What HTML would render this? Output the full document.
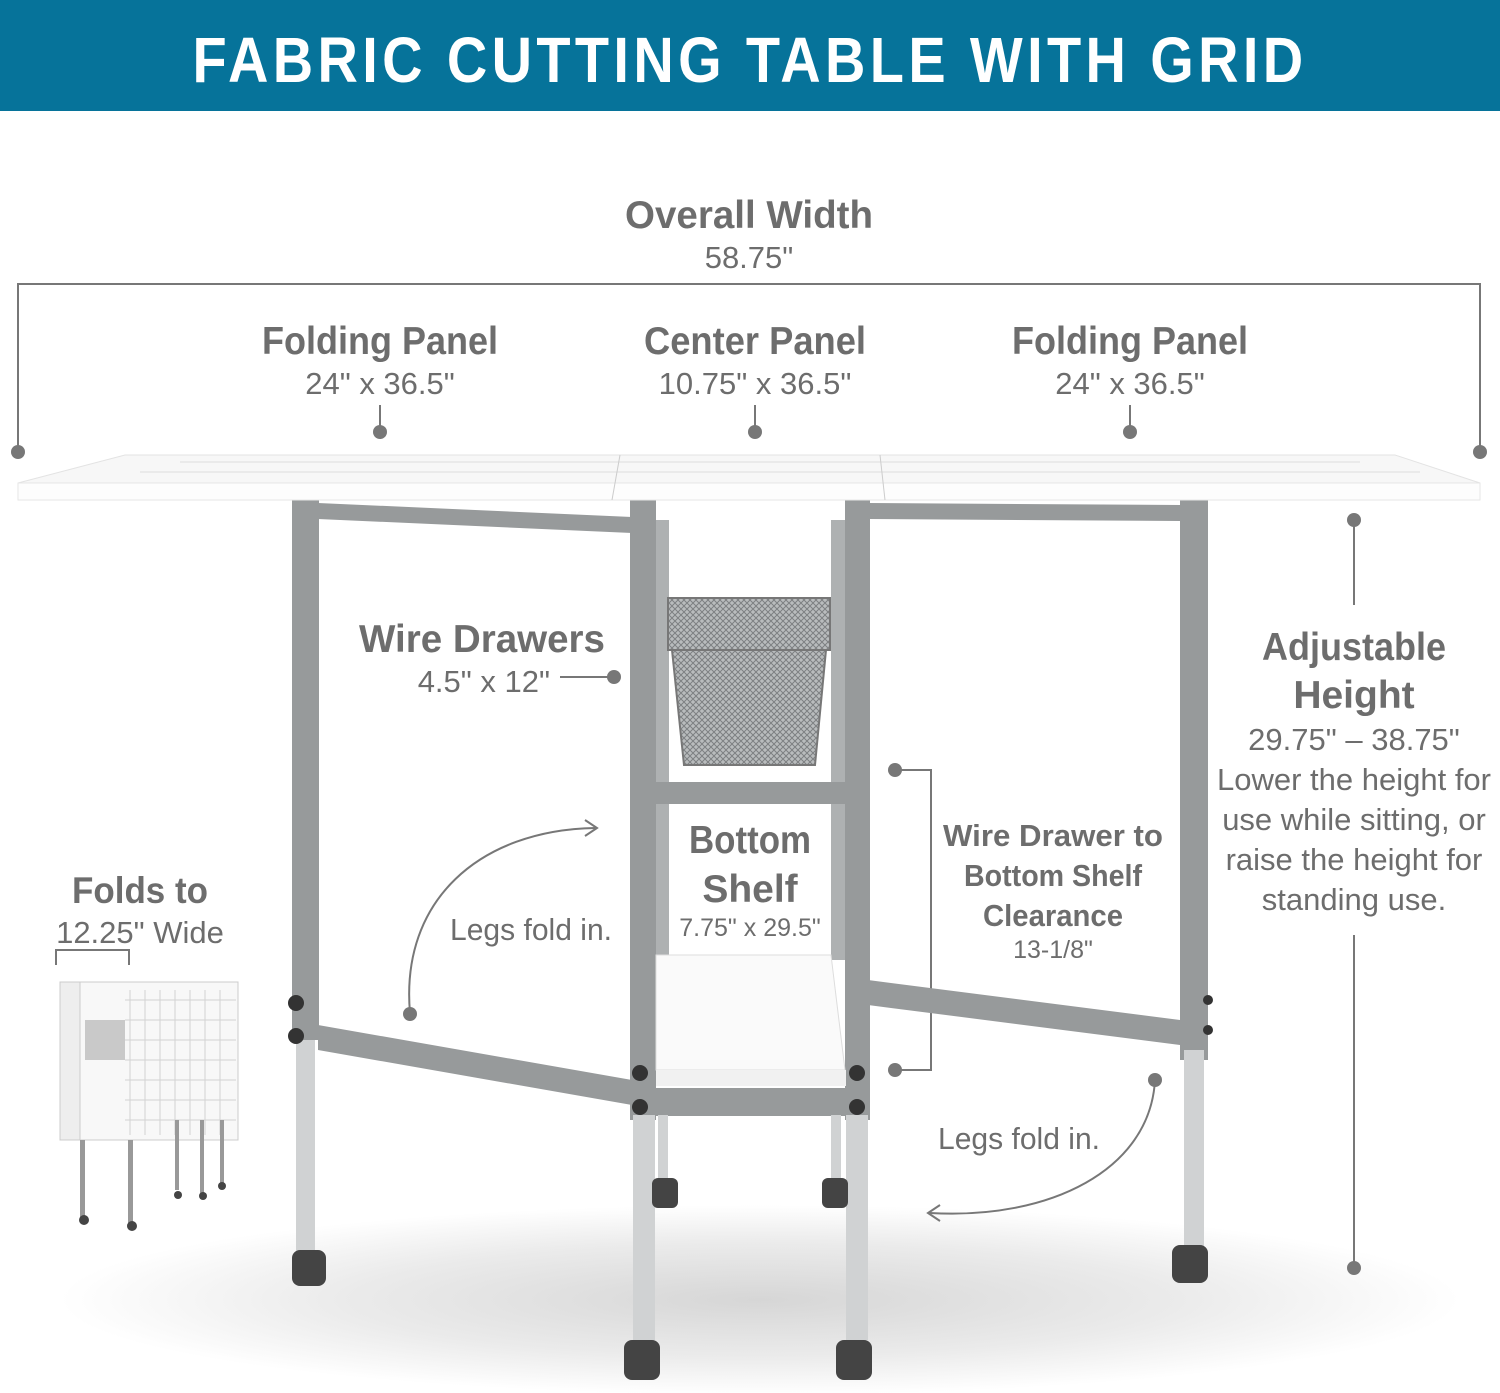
<!DOCTYPE html>
<html><head><meta charset="utf-8"><style>
html,body{margin:0;padding:0;background:#fff}
svg{display:block}
text{font-family:"Liberation Sans",sans-serif}
</style></head><body>
<svg width="1500" height="1393" viewBox="0 0 1500 1393" xmlns="http://www.w3.org/2000/svg">
<defs>
<radialGradient id="sh" cx="50%" cy="50%" r="50%">
<stop offset="0" stop-color="#d6d6d6"/><stop offset="0.6" stop-color="#ebebeb"/><stop offset="1" stop-color="#fff"/>
</radialGradient>
<pattern id="mesh" width="6" height="6" patternUnits="userSpaceOnUse">
<rect width="6" height="6" fill="#b9bcbd"/><path d="M0 0L6 6M6 0L0 6" stroke="#7d8082" stroke-width="1"/>
</pattern>
</defs>
<rect width="1500" height="111" fill="#06739a"/>
<text x="750" y="82" text-anchor="middle" fill="#fff" font-size="64" font-weight="bold" letter-spacing="5" textLength="1115" lengthAdjust="spacingAndGlyphs">FABRIC CUTTING TABLE WITH GRID</text>

<ellipse cx="760" cy="1300" rx="700" ry="95" fill="url(#sh)"/>

<g fill="#6d6d6d" text-anchor="middle">
<text x="749" y="228" font-size="39" font-weight="bold" textLength="248" lengthAdjust="spacingAndGlyphs">Overall Width</text>
<text x="749" y="268" font-size="31">58.75"</text>
<text x="380" y="354" font-size="39" font-weight="bold" textLength="236" lengthAdjust="spacingAndGlyphs">Folding Panel</text>
<text x="380" y="394" font-size="31">24" x 36.5"</text>
<text x="755" y="354" font-size="39" font-weight="bold" textLength="222" lengthAdjust="spacingAndGlyphs">Center Panel</text>
<text x="755" y="394" font-size="31">10.75" x 36.5"</text>
<text x="1130" y="354" font-size="39" font-weight="bold" textLength="236" lengthAdjust="spacingAndGlyphs">Folding Panel</text>
<text x="1130" y="394" font-size="31">24" x 36.5"</text>
<text x="1354" y="660" font-size="39" font-weight="bold" textLength="184" lengthAdjust="spacingAndGlyphs">Adjustable</text>
<text x="1354" y="708" font-size="39" font-weight="bold">Height</text>
<text x="1354" y="750" font-size="31">29.75" – 38.75"</text>
<text x="1354" y="790" font-size="31">Lower the height for</text>
<text x="1354" y="830" font-size="31">use while sitting, or</text>
<text x="1354" y="870" font-size="31">raise the height for</text>
<text x="1354" y="910" font-size="31">standing use.</text>
<text x="1053" y="846" font-size="31" font-weight="bold" textLength="220" lengthAdjust="spacingAndGlyphs">Wire Drawer to</text>
<text x="1053" y="886" font-size="31" font-weight="bold" textLength="178" lengthAdjust="spacingAndGlyphs">Bottom Shelf</text>
<text x="1053" y="926" font-size="31" font-weight="bold" textLength="140" lengthAdjust="spacingAndGlyphs">Clearance</text>
<text x="1053" y="958" font-size="25">13-1/8"</text>
<text x="750" y="853" font-size="39" font-weight="bold" textLength="122" lengthAdjust="spacingAndGlyphs">Bottom</text>
<text x="750" y="902" font-size="39" font-weight="bold">Shelf</text>
<text x="750" y="936" font-size="25">7.75" x 29.5"</text>
<text x="140" y="903" font-size="37" font-weight="bold" textLength="136" lengthAdjust="spacingAndGlyphs">Folds to</text>
<text x="140" y="943" font-size="31">12.25" Wide</text>
</g>
<g fill="#6d6d6d">
<text x="605" y="652" font-size="39" font-weight="bold" text-anchor="end" textLength="246" lengthAdjust="spacingAndGlyphs">Wire Drawers</text>
<text x="550" y="692" font-size="31" text-anchor="end">4.5" x 12"</text>
<text x="450" y="940" font-size="31" textLength="162" lengthAdjust="spacingAndGlyphs">Legs fold in.</text>
<text x="938" y="1149" font-size="31" textLength="162" lengthAdjust="spacingAndGlyphs">Legs fold in.</text>
</g>

<g stroke="#777" stroke-width="2" fill="none">
<path d="M18 452V284H1480V452"/>
<path d="M380 405V432M755 405V432M1130 405V432"/>
<path d="M1354 520V605M1354 935V1268"/>
<path d="M560 677H614"/>
<path d="M895 770H931V1070H895"/>
<path d="M56 965V950H129V965"/>
<path d="M410 1013C400 900 480 830 595 828"/>
<path d="M1155 1080C1150 1170 1050 1220 930 1213"/>
</g>
<g fill="#777">
<circle cx="18" cy="452" r="7"/><circle cx="1480" cy="452" r="7"/>
<circle cx="380" cy="432" r="7"/><circle cx="755" cy="432" r="7"/><circle cx="1130" cy="432" r="7"/>
<circle cx="1354" cy="520" r="7"/><circle cx="1354" cy="1268" r="7"/>
<circle cx="614" cy="677" r="7"/><circle cx="895" cy="770" r="7"/><circle cx="895" cy="1070" r="7"/>
<circle cx="410" cy="1014" r="7"/><circle cx="1155" cy="1080" r="7"/><circle cx="752" cy="986" r="7"/>
</g>
<path d="M585 820L597 828L585 836M940 1205L928 1213L940 1221" stroke="#777" stroke-width="2" fill="none"/>

<g fill="#979a9b">
<rect x="292" y="500" width="27" height="540"/>
<rect x="1180" y="500" width="28" height="560"/>
<polygon points="318,503 632,517 632,533 318,519"/>
<polygon points="318,1025 632,1080 632,1105 318,1050"/>
<polygon points="868,503 1180,505 1180,521 868,519"/>
<polygon points="868,980 1180,1020 1180,1045 868,1005"/>
<rect x="630" y="500" width="26" height="620"/>
<rect x="845" y="500" width="25" height="620"/>
<rect x="656" y="520" width="13" height="440" fill="#aeb1b2"/>
<rect x="831" y="520" width="14" height="440" fill="#aeb1b2"/>
<rect x="656" y="782" width="190" height="22"/>
<rect x="656" y="1088" width="190" height="28"/>
</g>
<g fill="#d0d2d3">
<rect x="296" y="1040" width="19" height="215"/>
<rect x="1184" y="1050" width="20" height="200"/>
<rect x="633" y="1115" width="22" height="225"/>
<rect x="846" y="1115" width="22" height="225"/>
<rect x="658" y="1115" width="10" height="70"/>
<rect x="831" y="1115" width="10" height="70"/>
</g>
<polygon points="656,955 831,955 845,1070 656,1070" fill="#fafafa" stroke="#ddd"/>
<rect x="656" y="1070" width="190" height="16" fill="#f1f1f1"/>
<rect x="668" y="598" width="162" height="52" fill="url(#mesh)" stroke="#777" stroke-width="2"/>
<polygon points="672,650 826,650 815,765 684,765" fill="url(#mesh)" stroke="#777" stroke-width="2"/>
<g fill="#333">
<circle cx="296" cy="1003" r="8"/><circle cx="296" cy="1036" r="8"/>
<circle cx="640" cy="1073" r="8"/><circle cx="640" cy="1107" r="8"/>
<circle cx="857" cy="1073" r="8"/><circle cx="857" cy="1107" r="8"/>
<circle cx="1208" cy="1000" r="5"/><circle cx="1208" cy="1030" r="5"/>
</g>
<g fill="#444">
<rect x="292" y="1250" width="34" height="36" rx="8"/>
<rect x="1172" y="1245" width="36" height="38" rx="8"/>
<rect x="624" y="1340" width="36" height="40" rx="8"/>
<rect x="836" y="1340" width="36" height="40" rx="8"/>
<rect x="652" y="1178" width="26" height="30" rx="6"/>
<rect x="822" y="1178" width="26" height="30" rx="6"/>
</g>
<polygon points="125,455 1395,455 1480,483 18,483" fill="#f7f7f7" stroke="#e3e3e3"/>
<rect x="18" y="483" width="1462" height="17" fill="#fdfdfd" stroke="#e6e6e6"/>
<g stroke="#ddd" stroke-width="1">
<path d="M180 462H1360M140 472H1420"/>
</g>
<line x1="620" y1="455" x2="612" y2="500" stroke="#ccc"/>
<line x1="880" y1="455" x2="885" y2="500" stroke="#ccc"/>

<g>
<rect x="60" y="982" width="178" height="158" fill="#f8f8f8" stroke="#ccc"/>
<rect x="60" y="982" width="20" height="158" fill="#eee" stroke="#ccc"/>
<g stroke="#d2d2d2" stroke-width="1">
<path d="M130 990V1135M145 990V1135M160 990V1135M175 990V1135M190 990V1135M205 990V1135M220 990V1135"/>
<path d="M125 1000H236M125 1020H236M125 1040H236M125 1060H236M125 1080H236M125 1100H236M125 1120H236"/>
</g>
<rect x="85" y="1020" width="40" height="40" fill="#aaa" opacity="0.6"/>
<g fill="#999">
<rect x="80" y="1140" width="5" height="80"/><rect x="128" y="1140" width="5" height="85"/>
<rect x="175" y="1120" width="4" height="70"/><rect x="200" y="1120" width="4" height="75"/><rect x="220" y="1120" width="4" height="65"/>
</g>
<g fill="#444"><circle cx="84" cy="1220" r="5"/><circle cx="132" cy="1226" r="5"/><circle cx="178" cy="1195" r="4"/><circle cx="203" cy="1196" r="4"/><circle cx="222" cy="1186" r="4"/></g>
</g>
</svg>
</body></html>
